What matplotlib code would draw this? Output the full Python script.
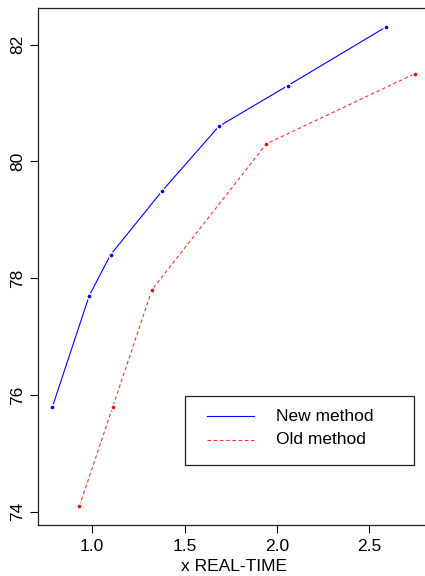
import matplotlib
matplotlib.use("Agg")
import matplotlib.pyplot as plt
from matplotlib.lines import Line2D
from matplotlib.patches import Rectangle

# Данные
new_x = [0.785, 0.984, 1.099, 1.380, 1.685, 2.059, 2.588]
new_y = [75.8, 77.7, 78.4, 79.5, 80.6, 81.3, 82.3]
old_x = [0.931, 1.112, 1.323, 1.942, 2.744]
old_y = [74.1, 75.8, 77.8, 80.3, 81.5]
x_ticks = [1.0, 1.5, 2.0, 2.5]
y_ticks = [74, 76, 78, 80, 82]
labels = ["New method", "Old method"]

W, H = 425, 576
plt.rcParams['font.family'] = ['Liberation Sans', 'DejaVu Sans']
fs = 12.5

fig = plt.figure(figsize=(W / 100, H / 100), dpi=100)

def fx(px):
    return px / W

def fy(py):
    return 1 - py / H

# оси как в R: left 38px, right 429px (за краем), top 8px, bottom 525px
ax = fig.add_axes([fx(38), fy(525), fx(429) - fx(38), fy(8) - fy(525)])

def rlim(lo, hi):
    pad = (hi - lo) * 0.04
    return lo - pad, hi + pad

ax.set_xlim(*rlim(min(new_x + old_x), max(new_x + old_x)))
ax.set_ylim(*rlim(min(new_y + old_y), max(new_y + old_y)))

ax.plot(new_x, new_y, color='blue', lw=0.8, zorder=2)
ax.plot(old_x, old_y, color='#ff3030', lw=0.8, dashes=(3.2, 2.4), zorder=2)
ax.scatter(new_x, new_y, s=14, color='blue', edgecolors='white', linewidths=1.1, zorder=3)
ax.scatter(old_x, old_y, s=14, color='red', edgecolors='white', linewidths=1.1, zorder=3)

ax.set_xticks(x_ticks)
ax.set_xticklabels([f"{t:.1f}" for t in x_ticks])
ax.set_yticks(y_ticks)
ax.set_yticklabels([str(t) for t in y_ticks], rotation=90, va='center')
ax.tick_params(length=5.8, width=0.8, labelsize=fs, color='black')
ax.tick_params(axis='x', pad=4.5)
ax.tick_params(axis='y', pad=3.5)
for s in ax.spines.values():
    s.set_linewidth(0.9)
    s.set_color('#222222')

ax.set_xlabel("x REAL-TIME", fontsize=fs, labelpad=3.5)

# Легенда (вручную, как в R)
fig.patches.append(Rectangle((fx(185), fy(465)), fx(413.7) - fx(185), fy(395.7) - fy(465),
                             transform=fig.transFigure, fill=False, lw=0.9, ec='#222222'))
fig.lines.append(Line2D([fx(207), fx(254)], [fy(416.3)] * 2, transform=fig.transFigure,
                        color='blue', lw=0.8))
fig.lines.append(Line2D([fx(207), fx(254)], [fy(439.7)] * 2, transform=fig.transFigure,
                        color='#ff3030', lw=0.8, dashes=(3.2, 2.4)))
fig.text(fx(276.3), fy(416.3), labels[0], fontsize=fs, va='center', ha='left')
fig.text(fx(276.3), fy(439.7), labels[1], fontsize=fs, va='center', ha='left')

fig.savefig("out.png", dpi=100)
